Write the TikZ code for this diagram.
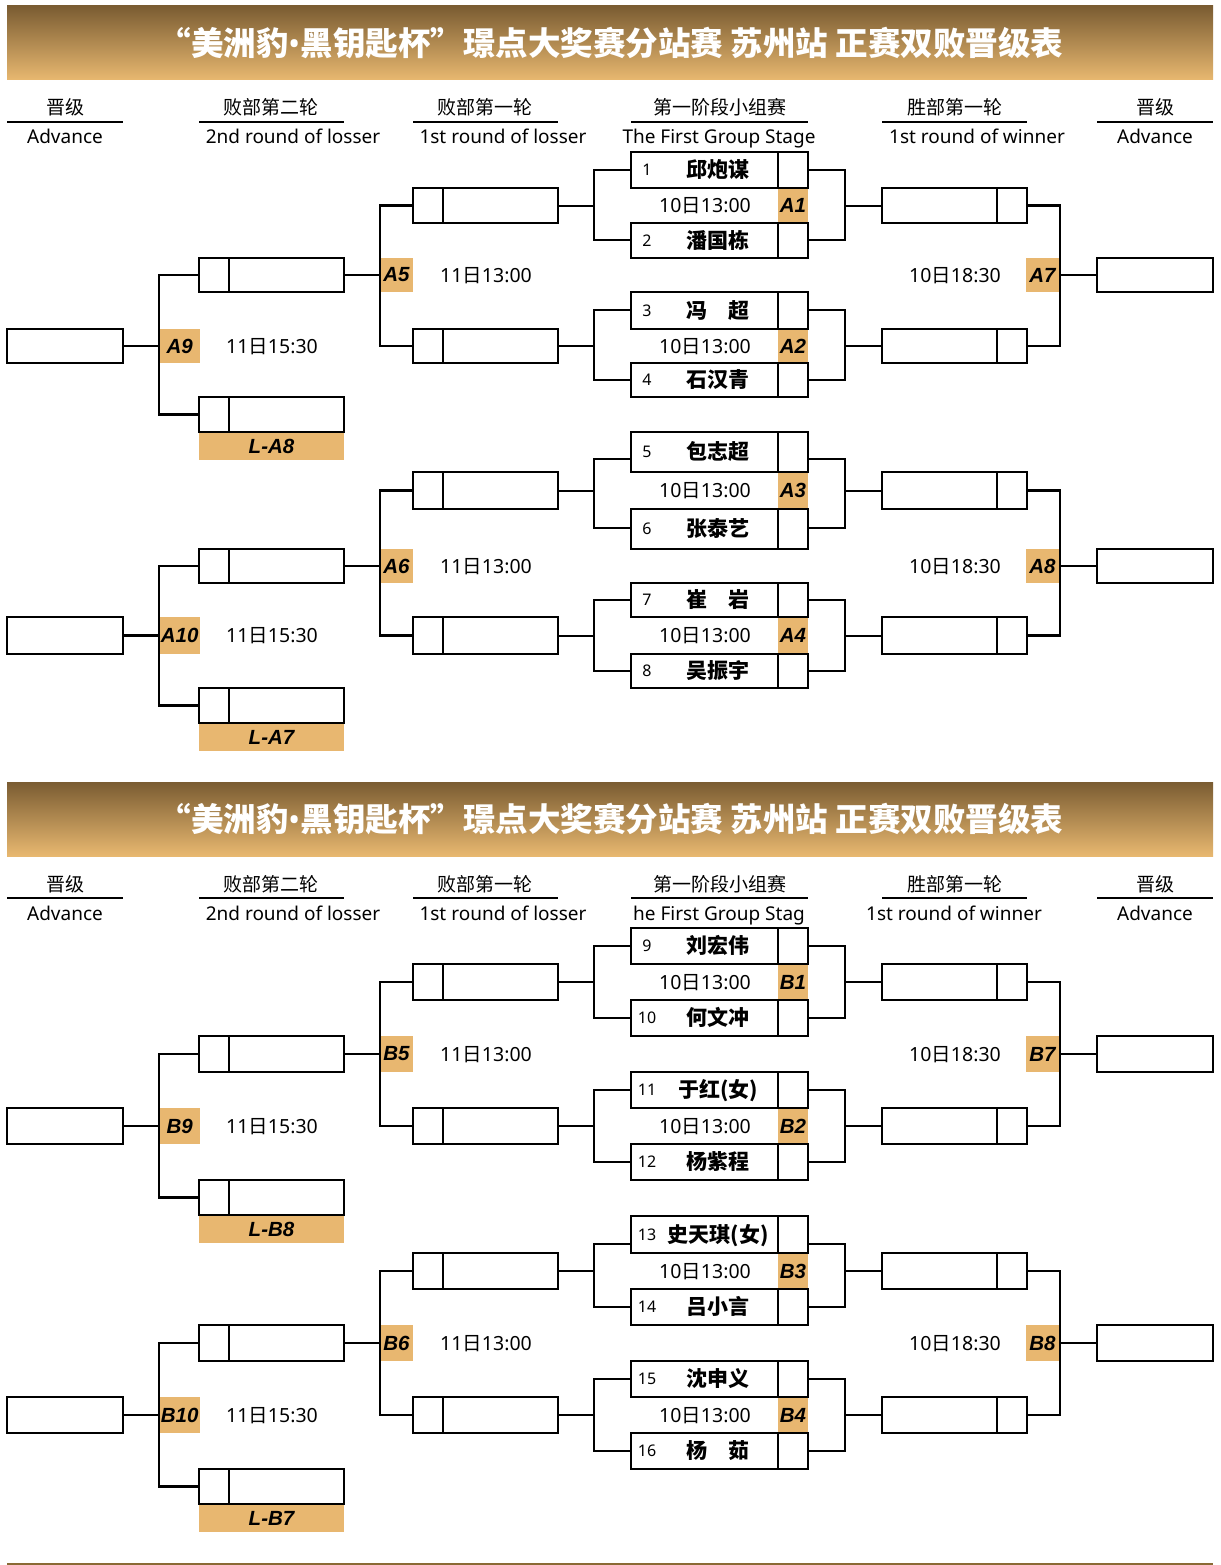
\documentclass[tikz,border=0pt]{standalone}
\usepackage{fontspec}
\setmainfont{Noto Sans}
\newfontfamily\cjk{Noto Sans CJK SC}
\newfontfamily\labf{Liberation Sans}
\definecolor{gold}{RGB}{232,183,112}
\definecolor{bantop}{RGB}{122,92,50}
\definecolor{banbot}{RGB}{232,184,112}
\definecolor{brownline}{RGB}{138,106,52}
\tikzset{
 every node/.style={inner sep=0pt, outer sep=0pt},
 bx/.style={draw, line width=1.4pt},
 lab/.style={fill=gold, font=\fontsize{20.5}{20.5}\selectfont\labf\bfseries\itshape},
 br/.style={line width=2.6pt},
 hl/.style={line width=2pt},
 hz/.style={font=\fontsize{19}{19}\selectfont\cjk},
 he/.style={font=\fontsize{19}{19}\selectfont},
 tm/.style={font=\fontsize{19.5}{19.5}\selectfont},
 nm/.style={font=\fontsize{21}{21}\selectfont\cjk\bfseries},
 no/.style={font=\fontsize{16}{16}\selectfont},
 ban/.style={minimum width=1206pt, minimum height=74pt, top color=bantop, bottom color=banbot},
 ttl/.style={text=white, font=\fontsize{32.5}{32.5}\selectfont\cjk\bfseries},
}
% rectangle node: name, x0, y0, x1, y1, style, text
\newcommand\rect[7]{\node[#6, anchor=north west, minimum width={(#4)-(#2)}, minimum height={(#5)-(#3)}] (#1) at ({#2},{#3}) {#7};}
\newcommand\hcol[8]{%
 \node[hz, anchor=base] (#1z) at ({#5},{#2+109}) {#7};
 \node[he, anchor=base] (#1e) at ({#6},{#2+138}) {#8};
 \draw[hl] ({#3},{#2+116}) -- ({#4},{#2+116});
}
\newcommand\hdr[4]{%
 \node[ban, anchor=north west] (#1ban) at ({7},{#2}) {};
 \node[ttl] (#1ttl) at ({611},{#2+37}) {“美洲豹{\fontspec{Noto Sans}\bfseries •}黑钥匙杯”璟点大奖赛分站赛 苏州站 正赛双败晋级表};
 \hcol{#1a}{#2}{7}{123}{65}{65}{晋级}{Advance}
 \hcol{#1b}{#2}{199}{344}{271}{293}{败部第二轮}{2nd round of losser}
 \hcol{#1c}{#2}{413}{558}{485}{503}{败部第一轮}{1st round of losser}
 \hcol{#1d}{#2}{631}{808}{720}{719}{第一阶段小组赛}{#3}
 \hcol{#1e}{#2}{882}{1027}{955}{#4}{胜部第一轮}{1st round of winner}
 \hcol{#1f}{#2}{1097}{1213}{1155}{1155}{晋级}{Advance}
}
% group: prefix, y0, y1, y2, y3, label, bracket top, bracket bottom, mid
\newcommand\grp[9]{%
 \rect{#1lb}{778}{#3}{808}{#4}{lab}{#6}
 \rect{#1n1}{631}{#2}{778}{#3}{bx}{}
 \rect{#1s1}{778}{#2}{808}{#3}{bx}{}
 \rect{#1n2}{631}{#4}{778}{#5}{bx}{}
 \rect{#1s2}{778}{#4}{808}{#5}{bx}{}
 \node[tm, anchor=base] (#1dt) at ({705},{(#3+#4)/2+7}) {10{\cjk 日}13:00};
 \rect{#1la}{413}{#3}{443}{#4}{bx}{}
 \rect{#1lo}{443}{#3}{558}{#4}{bx}{}
 \rect{#1wi}{882}{#3}{997}{#4}{bx}{}
 \rect{#1wb}{997}{#3}{1027}{#4}{bx}{}
 \coordinate (#1L) at ({594},{#9});
 \coordinate (#1R) at ({845},{#9});
 \coordinate (#1bt) at ({0},{#7});
 \coordinate (#1bb) at ({0},{#8});
 \draw[br] (#1n1.west |- #1bt) -| (#1L) |- (#1n2.west |- #1bb);
 \draw[br] (#1s1.east |- #1bt) -| (#1R) |- (#1s2.east |- #1bb);
 \draw[br] (#1L) -- (#1lo.east |- #1L);
 \draw[br] (#1R) -- (#1wi.west |- #1R);
}
\newcommand\pl[5]{%
 \path (#1n1.center -| xnum) ++(0,5.5) node[no, anchor=base] (#1u1) {#2};
 \path (#1n1.center -| xname) ++(0,7.5) node[nm, anchor=base] (#1m1) {#3};
 \path (#1n2.center -| xnum) ++(0,5.5) node[no, anchor=base] (#1u2) {#4};
 \path (#1n2.center -| xname) ++(0,7.5) node[nm, anchor=base] (#1m2) {#5};
}
% half: id, top group, bottom group, label y0, label y1, g2 y1, g2 y2, g2 y3
\newcommand\half[8]{%
 \rect{#1lo}{380}{#4}{413}{#5}{lab}{\Lo}
 \rect{#1wi}{1026}{#4}{1059}{#5}{lab}{\Wi}
 \rect{#1cl}{159.5}{#6}{200}{#7}{lab}{\Co}
 \rect{#1LL}{199}{#8+35}{344}{#8+63}{lab}{\LL}
 \rect{#1ca}{199}{#4}{229}{#5}{bx}{}
 \rect{#1cb}{229}{#4}{344}{#5}{bx}{}
 \rect{#1adr}{1097}{#4}{1213}{#5}{bx}{}
 \rect{#1adl}{7}{#6}{123}{#7}{bx}{}
 \rect{#1da}{199}{#8}{229}{#8+35}{bx}{}
 \rect{#1db}{229}{#8}{344}{#8+35}{bx}{}
 \coordinate (#1X) at ({380},{(#4+#5)/2});
 \coordinate (#1Y) at ({1060},{(#4+#5)/2});
 \coordinate (#1Z) at ({159},{(#6+#7)/2});
 \draw[br] (#2la.west) -| (#1X) |- (#3la.west);
 \draw[br] (#1X) -- (#1cb.east |- #1X);
 \draw[br] (#2wb.east) -| (#1Y) |- (#3wb.east);
 \draw[br] (#1Y) -- (#1adr.west |- #1Y);
 \draw[br] (#1ca.west) -| (#1Z) |- (#1da.west);
 \draw[br] (#1Z) -- (#1adl.east |- #1Z);
 \node[tm, anchor=base] (#1t1) at ({486},{(#4+#5)/2+7}) {11{\cjk 日}13:00};
 \node[tm, anchor=base] (#1t2) at ({955},{(#4+#5)/2+7}) {10{\cjk 日}18:30};
 \node[tm, anchor=base] (#1t3) at ({272},{(#6+#7)/2+7}) {11{\cjk 日}15:30};
}
\begin{document}
\begin{tikzpicture}[x=1pt,y=-1pt]
\useasboundingbox (0,0) rectangle (1220,1565);
\coordinate (xnum) at (647,0);
\coordinate (xname) at (718,0);
\hdr{s1}{6}{The First Group Stage}{977}
\hdr{s2}{782}{he First Group Stag}{954}
\grp{A1}{152}{188}{223}{258}{A1}{170}{240}{206}
\grp{A2}{292}{329}{363}{397}{A2}{310}{380}{346}
\grp{A3}{432}{472}{509}{549}{A3}{459}{528}{491}
\grp{A4}{583}{617}{654}{688}{A4}{600}{671}{636}
\grp{B1}{928}{964}{1000}{1036}{B1}{946}{1018}{982}
\grp{B2}{1072}{1108}{1144}{1180}{B2}{1090}{1162}{1126}
\grp{B3}{1216}{1253}{1289}{1325}{B3}{1244}{1307}{1271}
\grp{B4}{1361}{1397}{1433}{1469}{B4}{1379}{1451}{1415}
\pl{A1}{1}{邱炮谋}{2}{潘国栋}
\pl{A2}{3}{冯　超}{4}{石汉青}
\pl{A3}{5}{包志超}{6}{张泰艺}
\pl{A4}{7}{崔　岩}{8}{吴振宇}
\pl{B1}{9}{刘宏伟}{10}{何文冲}
\pl{B2}{11}{于红(女)}{12}{杨紫程}
\pl{B3}{13}{史天琪(女)}{14}{吕小言}
\pl{B4}{15}{沈申义}{16}{杨　茹}
\def\Lo{A5}\def\Wi{A7}\def\Co{A9}\def\LL{L-A8}
\half{hA}{A1}{A2}{258}{292}{329}{363}{397}
\def\Lo{A6}\def\Wi{A8}\def\Co{A10}\def\LL{L-A7}
\half{hB}{A3}{A4}{549}{583}{617}{654}{688}
\def\Lo{B5}\def\Wi{B7}\def\Co{B9}\def\LL{L-B8}
\half{hC}{B1}{B2}{1036}{1072}{1108}{1144}{1180}
\def\Lo{B6}\def\Wi{B8}\def\Co{B10}\def\LL{L-B7}
\half{hD}{B3}{B4}{1325}{1361}{1397}{1433}{1469}
\draw[brownline, line width=1.2pt] (7,1564) -- (1213,1564);
\end{tikzpicture}
\end{document}
